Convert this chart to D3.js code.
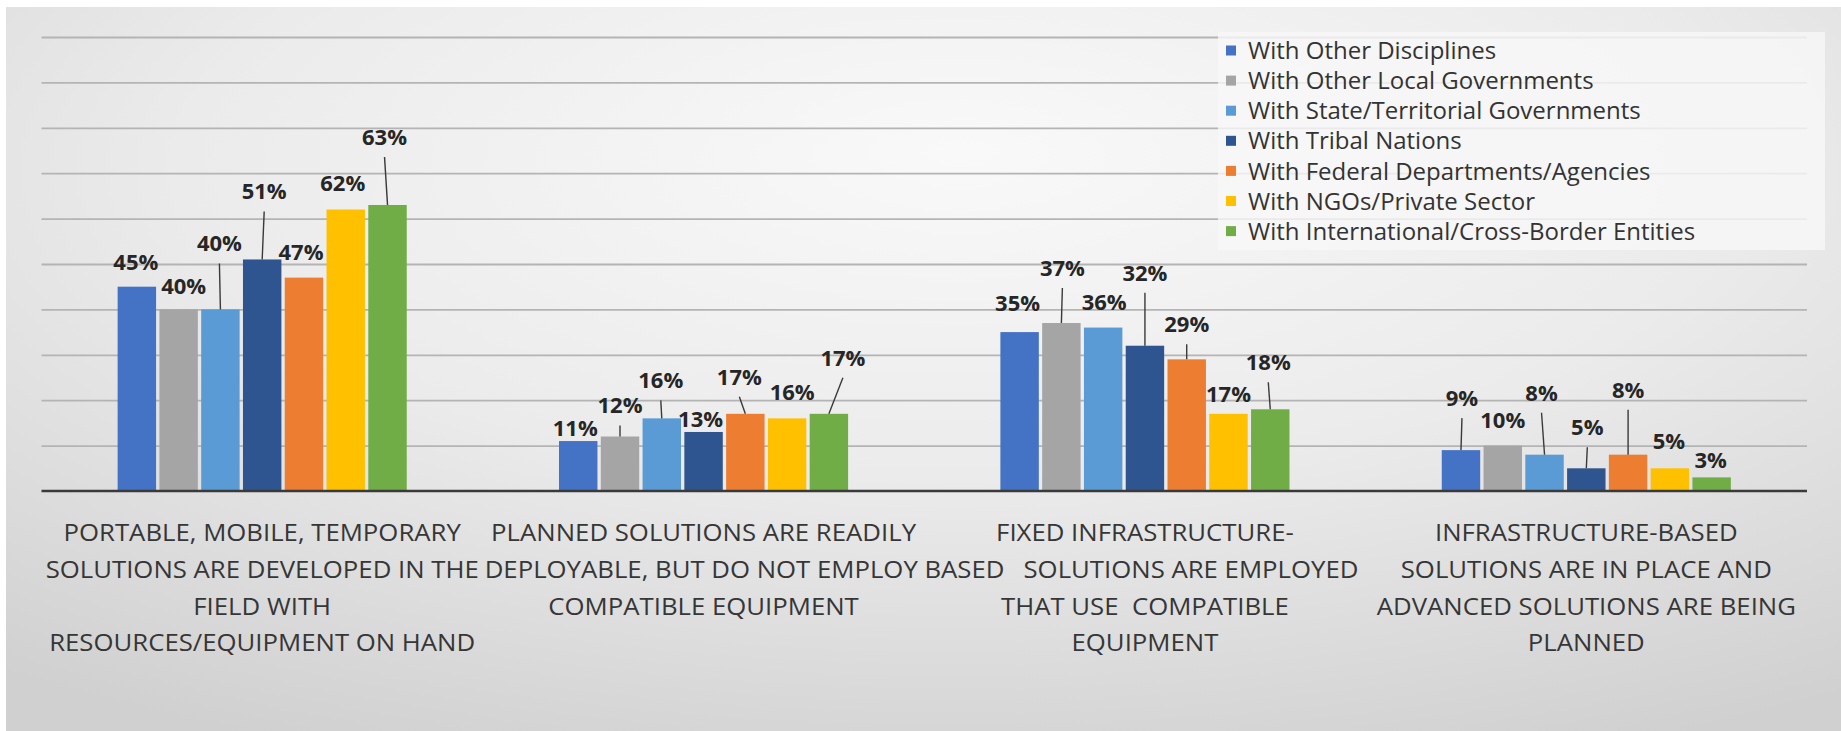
<!DOCTYPE html>
<html>
<head>
<meta charset="utf-8">
<script src="https://cdn.jsdelivr.net/npm/d3@7"></script>
<style>
  html, body { margin: 0; padding: 0; background: #ffffff; }
  svg { display: block; }
  text { font-family: "Open Sans", Lato, sans-serif; }
</style>
</head>
<body>
<svg id="chart" width="1841" height="731"></svg>
<script>
// Interoperability approaches, share of respondents (%)
const categories = [
  ["PORTABLE, MOBILE, TEMPORARY", "SOLUTIONS ARE DEVELOPED IN THE", "FIELD WITH", "RESOURCES/EQUIPMENT ON HAND"],
  ["PLANNED SOLUTIONS ARE READILY", "DEPLOYABLE, BUT DO NOT EMPLOY BASED", "COMPATIBLE EQUIPMENT"],
  ["FIXED INFRASTRUCTURE-", "SOLUTIONS ARE EMPLOYED", "THAT USE  COMPATIBLE", "EQUIPMENT"],
  ["INFRASTRUCTURE-BASED", "SOLUTIONS ARE IN PLACE AND", "ADVANCED SOLUTIONS ARE BEING", "PLANNED"]
];

const seriesNames = [
  "With Other Disciplines",
  "With Other Local Governments",
  "With State/Territorial Governments",
  "With Tribal Nations",
  "With Federal Departments/Agencies",
  "With NGOs/Private Sector",
  "With International/Cross-Border Entities"
];

const otherDisciplines   = [45, 11, 35, 9];
const otherLocalGovts    = [40, 12, 37, 10];
const stateTerritorial   = [40, 16, 36, 8];
const tribalNations      = [51, 13, 32, 5];
const federalAgencies    = [47, 17, 29, 8];
const ngosPrivate        = [62, 16, 17, 5];
const internationalCross = [63, 17, 18, 3];

const seriesValues = [otherDisciplines, otherLocalGovts, stateTerritorial, tribalNations,
                      federalAgencies, ngosPrivate, internationalCross];

const colors = ["#4472C4", "#A5A5A5", "#5B9BD5", "#2F5590", "#ED7D31", "#FFC000", "#70AD47"];

const yTicks = [10, 20, 30, 40, 50, 60, 70, 80, 90, 100];

// Hand-placed data label offsets [dx, dy, leader?] per category, per series (px from bar top centre)
const labelNudge = [
  [[-1, -25, 0], [5, -23, 0], [-1, -66, 1], [2, -68, 1], [-3, -26, 0], [-3, -26, 0], [-3, -68, 1]],
  [[-3, -13, 0], [0, -31, 1], [-1, -38, 1], [-3, -13, 0], [-6, -37, 1], [5, -26, 0], [14, -56, 1]],
  [[-2, -29, 0], [1, -55, 1], [1, -25, 0], [0, -73, 1], [0, -35, 1], [0, -20, 0], [-2, -47, 1]],
  [[1, -52, 1], [0, -26, 0], [-3, -62, 1], [1, -41, 1], [0, -65, 1], [-1, -27, 0], [-1, -17, 0]]
];

// Horizontal shift of individual category label lines, to keep neighbours apart (px)
const catLineShift = [[0, 0, 0, 0], [0, 41, 0], [0, 46, 0, 0], [0, 0, 0, 0]];

const W = 1841, H = 731;
const svg = d3.select("#chart");

// Panel background with soft radial shading
const defs = svg.append("defs");
const grad = defs.append("radialGradient")
  .attr("id", "panelShade")
  .attr("cx", "0.52").attr("cy", "0.25").attr("r", "0.85")
  .attr("fx", "0.52").attr("fy", "0.2");
grad.append("stop").attr("offset", "0%").attr("stop-color", "#f9f9f9");
grad.append("stop").attr("offset", "50%").attr("stop-color", "#ebebeb");
grad.append("stop").attr("offset", "100%").attr("stop-color", "#d0d0d0");

svg.append("rect").attr("x", 6).attr("y", 7).attr("width", W - 6).attr("height", H - 7)
  .attr("fill", "url(#panelShade)");

const plot = { left: 41.5, right: 1807, top: 37, bottom: 491 };

const y = d3.scaleLinear().domain([0, 100]).range([plot.bottom, plot.top]);

const x0 = d3.scaleBand()
  .domain(d3.range(categories.length))
  .range([plot.left, plot.right])
  .paddingInner(0.345)
  .paddingOuter(0.1725);

const x1 = d3.scaleBand()
  .domain(d3.range(seriesNames.length))
  .range([0, x0.bandwidth()])
  .paddingInner(0.08);

// Horizontal gridlines
const grid = svg.append("g")
  .attr("transform", `translate(${plot.left},0)`)
  .call(d3.axisLeft(y).tickValues(yTicks).tickSize(-(plot.right - plot.left)).tickFormat(""));
grid.select(".domain").remove();
grid.selectAll(".tick line").attr("stroke", "#b4b4b4").attr("stroke-width", 1.8);

// Bars
const groups = svg.append("g").selectAll("g")
  .data(categories)
  .join("g")
  .attr("transform", (d, i) => `translate(${x0(i)},0)`);

groups.selectAll("rect")
  .data((d, ci) => seriesValues.map((vals, si) => ({ ci, si, v: vals[ci] })))
  .join("rect")
  .attr("x", d => x1(d.si))
  .attr("y", d => y(d.v))
  .attr("width", x1.bandwidth())
  .attr("height", d => y(0) - y(d.v))
  .attr("fill", d => colors[d.si]);

// Category axis baseline
svg.append("line")
  .attr("x1", plot.left).attr("x2", plot.right)
  .attr("y1", y(0)).attr("y2", y(0))
  .attr("stroke", "#3a3a3a").attr("stroke-width", 2.6);

// Data labels with leader lines
const labelData = [];
categories.forEach((c, ci) => {
  seriesValues.forEach((vals, si) => {
    const v = vals[ci];
    const [dx, dy, leader] = labelNudge[ci][si];
    const cx = x0(ci) + x1(si) + x1.bandwidth() / 2;
    labelData.push({ v, cx, top: y(v), lx: cx + dx, ly: y(v) + dy, leader });
  });
});

svg.append("g").selectAll("line")
  .data(labelData.filter(d => d.leader))
  .join("line")
  .attr("x1", d => d.lx).attr("y1", d => d.ly + 20)
  .attr("x2", d => d.cx).attr("y2", d => d.top)
  .attr("stroke", "#3a3a3a").attr("stroke-width", 1.4);

svg.append("g").selectAll("text")
  .data(labelData)
  .join("text")
  .attr("x", d => d.lx).attr("y", d => d.ly)
  .attr("dy", "0.36em")
  .attr("text-anchor", "middle")
  .attr("font-size", 22)
  .attr("font-weight", 700)
  .attr("fill", "#262626")
  .text(d => d.v + "%");

// Category labels (slightly widened lettering)
const catLineY = [533, 570, 607, 643];
const sx = 1.12;
svg.append("g").selectAll("text")
  .data(categories)
  .join("text")
  .attr("transform", (d, i) => `translate(${x0(i) + x0.bandwidth() / 2},0) scale(${sx},1)`)
  .attr("text-anchor", "middle")
  .attr("font-size", 23)
  .attr("fill", "#363636")
  .style("white-space", "pre")
  .each(function (lines, i) {
    d3.select(this).selectAll("tspan")
      .data(lines)
      .join("tspan")
      .attr("x", (l, k) => catLineShift[i][k] / sx)
      .attr("y", (l, k) => catLineY[k])
      .attr("dy", "0.36em")
      .text(l => l);
  });

// Legend
const legend = svg.append("g");
legend.append("rect")
  .attr("x", 1218).attr("y", 32).attr("width", 607).attr("height", 218)
  .attr("fill", "#f7f7f7").attr("fill-opacity", 0.8);

const legendItems = legend.selectAll("g.item")
  .data(seriesNames)
  .join("g")
  .attr("class", "item")
  .attr("transform", (d, i) => `translate(1226,${50.5 + i * 30.1})`);

legendItems.append("rect")
  .attr("x", 0).attr("y", -5).attr("width", 10).attr("height", 10)
  .attr("fill", (d, i) => colors[i]);

legendItems.append("text")
  .attr("x", 22).attr("dy", "0.36em")
  .attr("font-size", 24)
  .attr("fill", "#333333")
  .text(d => d);
</script>
</body>
</html>
